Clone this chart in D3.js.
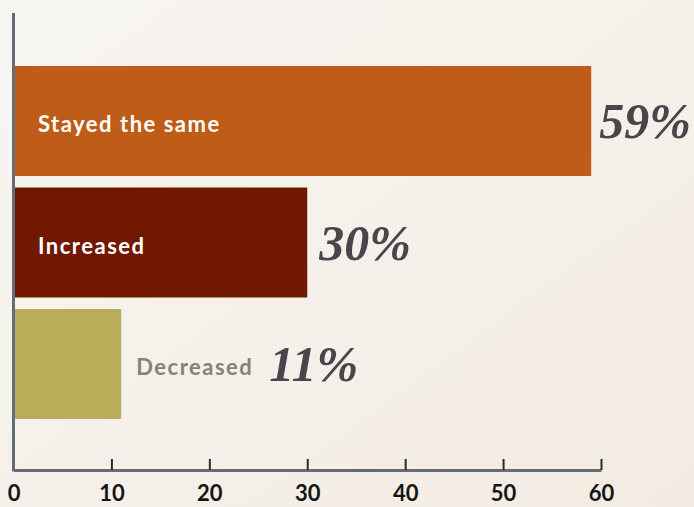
<!DOCTYPE html>
<html>
<head>
<meta charset="utf-8">
<script src="https://cdn.jsdelivr.net/npm/d3@7"></script>
<style>
  html, body { margin: 0; padding: 0; }
  body { width: 694px; height: 507px; overflow: hidden; }
</style>
</head>
<body>
<svg id="chart" width="694" height="507"></svg>
<script>
const categories = ["Stayed the same", "Increased", "Decreased"];
const values = [59, 30, 11];
const barColors = ["#bf5c18", "#701800", "#b9ad5a"];
const labelInside = [true, true, false];
const xTicks = [0, 10, 20, 30, 40, 50, 60];

const width = 694;
const height = 507;
const svg = d3.select("#chart");

// background gradient
const defs = svg.append("defs");
const grad = defs.append("linearGradient")
  .attr("id", "bg")
  .attr("x1", "0").attr("y1", "0")
  .attr("x2", "1").attr("y2", "1");
grad.append("stop").attr("offset", "0%").attr("stop-color", "#f8f6f2");
grad.append("stop").attr("offset", "100%").attr("stop-color", "#f2ebe2");
svg.append("rect")
  .attr("width", width).attr("height", height)
  .attr("fill", "url(#bg)");

const data = categories.map((c, i) => ({ cat: c, value: values[i], color: barColors[i], inside: labelInside[i] }));

const x = d3.scaleLinear().domain([0, 60]).range([13.5, 601]);
const y = d3.scaleBand().domain(categories).range([66, 419]).paddingInner(0.095).paddingOuter(0);

// bars
svg.append("g")
  .selectAll("rect")
  .data(data)
  .join("rect")
  .attr("x", x(0))
  .attr("y", (d) => y(d.cat))
  .attr("width", (d) => x(d.value) - x(0))
  .attr("height", y.bandwidth())
  .attr("fill", (d) => d.color);

// x axis
const axisY = 470;
const xAxis = svg.append("g")
  .attr("transform", `translate(0, ${axisY})`)
  .call(d3.axisBottom(x).tickValues(xTicks).tickSizeInner(-11).tickSizeOuter(0).tickFormat(d3.format("d")));
xAxis.select(".domain").attr("stroke", "#646c78").attr("stroke-width", 3);
xAxis.selectAll(".tick line").attr("stroke", "#2a2a2e").attr("stroke-width", 2);
xAxis.selectAll(".tick text")
  .attr("y", 31).attr("dy", "0")
  .attr("fill", "#151515")
  .attr("font-family", "Lato, sans-serif")
  .attr("font-weight", 700)
  .attr("font-size", "22px");

// y axis line
svg.append("line")
  .attr("x1", x(0)).attr("x2", x(0))
  .attr("y1", 13).attr("y2", axisY + 1.5)
  .attr("stroke", "#646c78")
  .attr("stroke-width", 3);

// category labels
const catLabels = svg.append("g")
  .selectAll("text")
  .data(data)
  .join("text")
  .attr("x", (d) => d.inside ? 38 : x(d.value) + 15)
  .attr("y", (d) => y(d.cat) + y.bandwidth() / 2 + 11)
  .attr("fill", (d) => d.inside ? "#ffffff" : "#8a7f77")
  .attr("font-family", "Lato, sans-serif")
  .attr("font-weight", 700)
  .attr("font-size", "22px")
  .attr("letter-spacing", "1.5px")
  .text((d) => d.cat);

// value labels
svg.append("g")
  .selectAll("text")
  .data(data)
  .join("text")
  .attr("x", (d, i) => {
    if (d.inside) return x(d.value) + (i === 0 ? 8 : 12);
    const node = catLabels.nodes()[i];
    return x(d.value) + 15 + node.getComputedTextLength() + 16;
  })
  .attr("y", (d) => y(d.cat) + y.bandwidth() / 2 + 17)
  .attr("fill", "#49454d")
  .attr("font-family", "'Liberation Serif', serif")
  .attr("font-style", "italic")
  .attr("font-weight", 700)
  .attr("font-size", "50px")
  .text((d) => d.value + "%");
</script>
</body>
</html>
